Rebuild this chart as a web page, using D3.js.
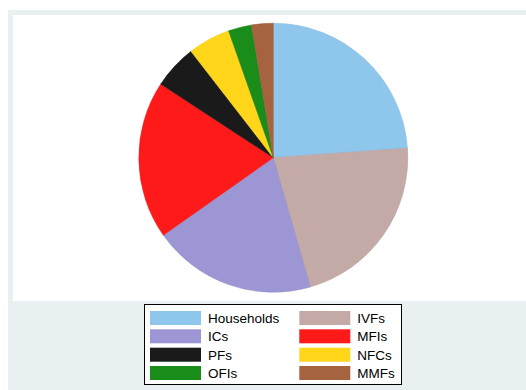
<!DOCTYPE html>
<html>
<head>
<meta charset="utf-8">
<script src="https://cdn.jsdelivr.net/npm/d3@7"></script>
<style>
  html, body { margin: 0; padding: 0; background: #ffffff; }
  svg { display: block; }
  text { font-family: "Liberation Sans", Arial, Helvetica, sans-serif; }
</style>
</head>
<body>
<svg id="chart" width="526" height="390"></svg>
<script>
// Sector shares (percent), drawn clockwise from 12 o'clock
const sectors = ["Households", "IVFs", "ICs", "MFIs", "PFs", "NFCs", "OFIs", "MMFs"];
const shares  = [23.9, 21.7, 19.7, 19.0, 5.3, 5.1, 2.8, 2.6];
const colors  = ["#8fc6eb", "#c4aaa6", "#9d96d4", "#ff1a1a", "#1a1a1a", "#ffd61a", "#1a8c1a", "#a6633f"];

const svg = d3.select("#chart");

// outer graph region and white plot region
svg.append("rect").attr("x", 8).attr("y", 10).attr("width", 518).attr("height", 380).attr("fill", "#e8f0f2");
svg.append("rect").attr("x", 13).attr("y", 15).attr("width", 513).attr("height", 286).attr("fill", "#ffffff");

const data = sectors.map((s, i) => ({ name: s, value: shares[i], color: colors[i] }));

const pie = d3.pie().value(d => d.value).sort(null);
const arc = d3.arc().innerRadius(0).outerRadius(134.5);

const g = svg.append("g").attr("transform", "translate(273.3,157.7)");
g.selectAll("path")
  .data(pie(data))
  .join("path")
  .attr("d", arc)
  .attr("fill", d => d.data.color)
  .attr("stroke", d => d3.color(d.data.color).darker(0.2))
  .attr("stroke-width", 0.5);

// legend
const legend = svg.append("g");
legend.append("rect")
  .attr("x", 144.5).attr("y", 304.5).attr("width", 257).attr("height", 80)
  .attr("fill", "#ffffff").attr("stroke", "#000000").attr("stroke-width", 1);

const colX = [150, 299.3];
const rowY = [311, 329.3, 347.7, 366];
data.forEach((d, i) => {
  const col = i % 2, row = Math.floor(i / 2);
  legend.append("rect")
    .attr("x", colX[col]).attr("y", rowY[row])
    .attr("width", 51).attr("height", 14)
    .attr("fill", d.color);
  legend.append("text")
    .attr("x", colX[col] + 58).attr("y", rowY[row] + 7)
    .attr("dy", "0.36em")
    .attr("font-size", 13.5)
    .attr("fill", "#000000")
    .text(d.name);
});
</script>
</body>
</html>
